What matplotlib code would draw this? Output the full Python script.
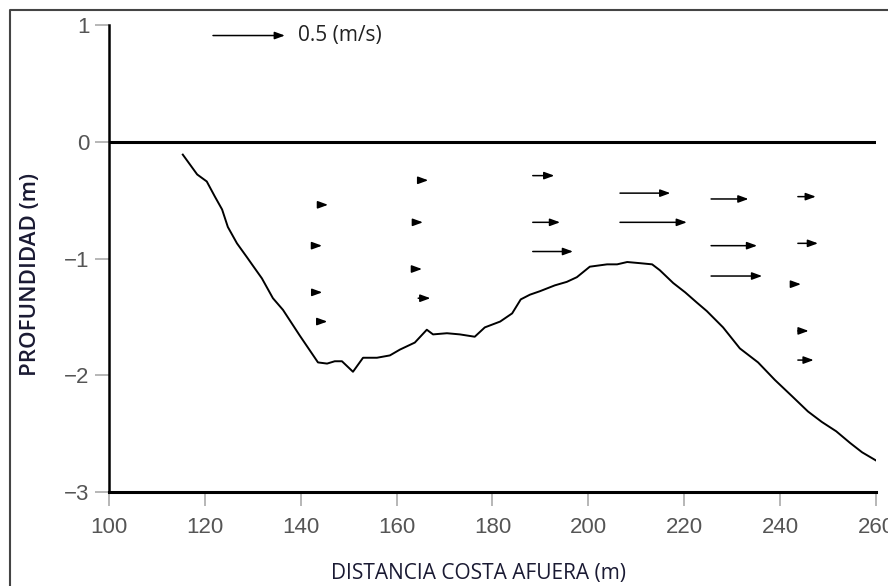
import matplotlib.pyplot as plt
from matplotlib.lines import Line2D

# perfil del fondo
dist = [115.4, 118.4, 120.4, 122.1, 123.6, 124.8, 126.7, 128.8, 130.0, 131.9,
        134.2, 136.3, 139.8, 143.6, 145.5, 147.1, 148.6, 150.9, 153.0, 155.9,
        158.6, 160.7, 163.8, 166.3, 167.6, 170.5, 173.2, 176.3, 178.4, 181.6,
        184.1, 185.9, 187.8, 189.9, 193.0, 195.5, 197.6, 200.3, 203.9, 206.0,
        208.1, 210.8, 213.3, 214.9, 217.7, 220.2, 222.7, 224.7, 228.1, 231.6,
        235.4, 238.9, 242.5, 245.8, 248.7, 251.7, 254.6, 257.1, 260.0]
prof = [-0.11, -0.28, -0.34, -0.47, -0.58, -0.73, -0.87, -0.99, -1.06, -1.17,
        -1.34, -1.44, -1.66, -1.89, -1.90, -1.88, -1.88, -1.97, -1.85, -1.85,
        -1.83, -1.78, -1.72, -1.61, -1.65, -1.64, -1.65, -1.67, -1.59, -1.54,
        -1.47, -1.35, -1.31, -1.28, -1.23, -1.20, -1.16, -1.07, -1.05, -1.05,
        -1.03, -1.04, -1.05, -1.10, -1.21, -1.29, -1.38, -1.45, -1.59, -1.77,
        -1.89, -2.04, -2.18, -2.31, -2.40, -2.48, -2.58, -2.66, -2.73]

# velocidades (m/s) en cada punto de medida
vel_x = [143.6, 142.8, 143.0, 143.6,
         164.5, 164.0, 163.8, 164.5,
         188.4, 188.4, 188.4,
         206.6, 206.6,
         225.6, 225.6, 225.6,
         243.7, 243.7, 242.7, 243.7, 243.7]
vel_z = [-0.54, -0.89, -1.29, -1.54,
         -0.33, -0.69, -1.09, -1.34,
         -0.29, -0.69, -0.94,
         -0.44, -0.69,
         -0.49, -0.89, -1.15,
         -0.47, -0.87, -1.22, -1.62, -1.87]
vel_u = [0.07, 0.055, 0.05, 0.065,
         0.07, 0.05, 0.05, 0.085,
         0.15, 0.19, 0.28,
         0.35, 0.465,
         0.26, 0.32, 0.355,
         0.125, 0.14, 0.055, 0.075, 0.11]

escala = 30.0  # metros de eje x por 1 m/s
ref_vel = 0.5

fig = plt.figure(figsize=(8.88, 5.86), dpi=100)
ax = fig.add_axes([0.1227, 0.1604, 0.8638, 0.7969])

ax.plot(dist, prof, color='black', lw=1.4)
ax.axhline(0, color='black', lw=2.2)

def flecha(x, z, u):
    ax.annotate('', xy=(x + u * escala, z), xytext=(x, z),
                arrowprops=dict(arrowstyle='-|>,head_length=0.6,head_width=0.22',
                                color='black', lw=1.1, shrinkA=0, shrinkB=0))

for x, z, u in zip(vel_x, vel_z, vel_u):
    flecha(x, z, u)

flecha(121.7, 0.91, ref_vel)
ax.text(139.4, 0.91, '0.5 (m/s)', fontsize=15, family='Open Sans',
        va='center', ha='left', color='#222222')

ax.set_xlim(100, 260)
ax.set_ylim(-3, 1)
ax.set_xticks([100, 120, 140, 160, 180, 200, 220, 240, 260])
ax.set_yticks([-3, -2, -1, 0, 1])
ax.spines['top'].set_visible(False)
ax.spines['right'].set_visible(False)
ax.spines['left'].set_linewidth(1.8)
ax.spines['bottom'].set_linewidth(2.2)
ax.tick_params(axis='both', direction='out', length=10, width=1.2,
               color='#aaaaaa', labelcolor='#555555', labelsize=16)
ax.tick_params(axis='x', pad=8)
ax.tick_params(axis='y', pad=4)
for lab in ax.get_xticklabels() + ax.get_yticklabels():
    lab.set_family('Liberation Sans')

fig.text(0.539, 0.022, 'DISTANCIA COSTA AFUERA (m)', fontsize=15,
         family='Open Sans', ha='center', va='center', color='#1a1a33')
fig.text(0.034, 0.532, 'PROFUNDIDAD (m)', fontsize=16, family='Open Sans',
         weight='semibold', rotation=90, ha='center', va='center', color='#1a1a33')

# marco de la imagen
fig.add_artist(Line2D([0.0113, 0.0113, 1.0], [0.0, 0.983, 0.983],
                      transform=fig.transFigure, color='#444444', lw=1.5))

plt.savefig('out.png', dpi=100)
